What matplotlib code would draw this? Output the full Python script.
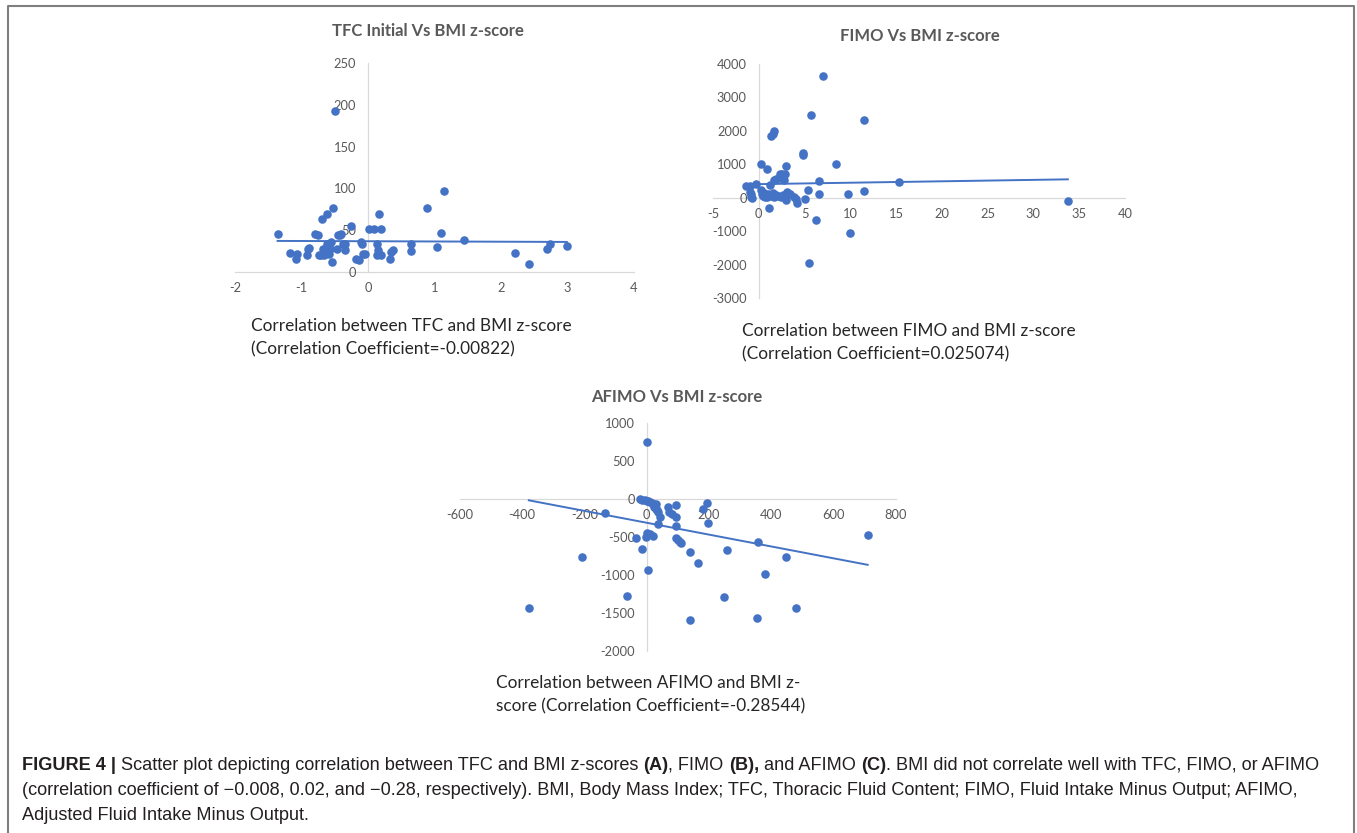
import numpy as np
import matplotlib
matplotlib.use("Agg")
import matplotlib.pyplot as plt
from matplotlib import font_manager
from matplotlib.lines import Line2D

# ---------------- data ----------------
# (A) TFC initial against BMI z-score
tfc_bmi = [-1.36, -1.18, -1.07, -1.09, -0.90, -0.92, -0.88, -0.79, -0.75, -0.73,
           -0.69, -0.68, -0.62, -0.64, -0.60, -0.59, -0.55, -0.58, -0.53, -0.54,
           -0.50, -0.47, -0.45, -0.40, -0.35, -0.34, -0.25, -0.18, -0.14, -0.10,
           -0.09, -0.08, -0.04, 0.02, 0.09, 0.17, 0.19, 0.14, 0.15, 0.13,
           0.19, 0.33, 0.37, 0.34, 0.65, 0.65, 0.89, 1.04, 1.10, 1.15,
           1.44, 2.21, 2.42, 2.69, 2.73, 2.99, -0.70, -0.66, -0.57, -0.42,
           -0.37, -0.61]
tfc_val = [45, 23, 22, 15, 27, 20, 29, 45, 44, 20,
           63, 27, 69, 22, 26, 30, 36, 22, 77, 12,
           192, 27, 44, 46, 26, 33, 55, 15, 14, 36,
           33, 22, 22, 51, 52, 69, 52, 33, 26, 20,
           20, 15, 26, 24, 34, 25, 77, 30, 47, 97,
           38, 23, 9, 27, 33, 31, 20, 20, 28, 44,
           33, 33]
tfc_fit = (36.8, -0.28)          # intercept, slope

# (B) FIMO against BMI z-score
fimo_bmi = [-1.45, -0.98, -0.91, -0.80, -0.73, -0.87, -0.25, 0.29, 0.91, 0.25,
            0.36, 0.45, 0.55, 0.65, 0.75, 0.85, 1.00, 1.09, 1.20, 1.38,
            1.56, 1.71, 1.64, 1.93, 2.18, 2.33, 2.55, 2.91, 2.95, 2.73,
            1.35, 1.50, 1.70, 1.90, 2.10, 2.40, 2.60, 2.98, 3.09, 3.46,
            3.82, 4.04, 4.18, 4.84, 4.86, 5.09, 5.35, 5.46, 5.71, 6.26,
            6.62, 6.62, 7.02, 8.48, 9.71, 9.93, 11.46, 11.50, 15.28, 33.76]
fimo_val = [350, 350, 170, 20, -10, 100, 420, 1010, 850, 220,
            120, 60, 150, 30, 80, 10, 100, -310, 370, 1840,
            1920, 1990, 520, 570, 600, 720, 700, 700, 960, 520,
            50, 140, 30, 80, 60, 20, 90, -80, 170, 100,
            20, -30, -160, 1340, 1290, -30, 220, -1950, 2470, -680,
            500, 100, 3640, 1000, 100, -1060, 2320, 190, 470, -100]
fimo_fit = (406.0, 4.26)

# (C) AFIMO against BMI z-score
afimo_bmi = [0, -379, -208, -134, -63, -34, -15, 4, -4, 0,
             11, 19, -22, -14, -6, 0, 4, 10, 15, 20,
             25, 30, 22, 28, 33, 36, 42, 36, 68, 72,
             80, 95, 93, 93, 95, 100, 106, 111, 138, 137,
             165, 181, 194, 197, 248, 258, 356, 354, 378, 447,
             479, 709]
afimo_val = [754, -1439, -768, -184, -1272, -513, -658, -934, -504, -452,
             -461, -482, -5, -10, -15, -20, -25, -40, -55, -70,
             -80, -60, -100, -130, -150, -167, -232, -333, -110, -167,
             -197, -79, -232, -355, -518, -539, -561, -583, -693, -1588,
             -838, -136, -48, -320, -1294, -671, -561, -1566, -987, -768,
             -1439, -474]
afimo_fit = (-313.0, -0.78)

titles = ["TFC Initial Vs BMI z-score", "FIMO Vs BMI z-score", "AFIMO Vs BMI z-score"]
notes = [["Correlation between TFC and BMI z-score",
          "(Correlation Coefficient=-0.00822)"],
         ["Correlation between FIMO and BMI z-score",
          "(Correlation Coefficient=0.025074)"],
         ["Correlation between AFIMO and BMI z-",
          "score (Correlation Coefficient=-0.28544)"]]

caption = [
    [("FIGURE 4 |", True),
     (" Scatter plot depicting correlation between TFC and BMI z-scores ", False),
     ("(A)", True), (", FIMO ", False), ("(B),", True), (" and AFIMO ", False),
     ("(C)", True), (". BMI did not correlate well with TFC, FIMO, or AFIMO", False)],
    [("(correlation coefficient of \u22120.008, 0.02, and \u22120.28, respectively). "
      "BMI, Body Mass Index; TFC, Thoracic Fluid Content; FIMO, Fluid Intake Minus "
      "Output; AFIMO,", False)],
    [("Adjusted Fluid Intake Minus Output.", False)],
]

# ---------------- style ----------------
BLUE = "#4472c4"
AXIS = "#d9d9d9"
GREY = "#595959"
plt.rcParams["axes.unicode_minus"] = False
plt.rcParams["font.family"] = ["Lato", "DejaVu Sans"]

installed = {f.name for f in font_manager.fontManager.ttflist}
cap_font = "Liberation Sans Narrow" if "Liberation Sans Narrow" in installed else "Liberation Sans"

W, H = 1357, 833
fig = plt.figure(figsize=(W / 100, H / 100), dpi=100)


def px_axes(left, top, right, bottom):
    return fig.add_axes([left / W, 1 - bottom / H, (right - left) / W, (bottom - top) / H])


def excel_scatter(ax, x, y, fit, xlim, ylim, xticks, yticks):
    ax.scatter(x, y, s=38, color=BLUE, linewidths=0, zorder=3)
    xs = np.array([min(x), max(x)])
    ax.plot(xs, fit[0] + fit[1] * xs, color=BLUE, lw=1.4, zorder=2)
    ax.set_xlim(xlim)
    ax.set_ylim(ylim)
    ax.set_xticks(xticks)
    ax.set_yticks(yticks)
    for s in ["top", "right"]:
        ax.spines[s].set_visible(False)
    for s in ["left", "bottom"]:
        ax.spines[s].set_position(("data", 0))
        ax.spines[s].set_color(AXIS)
        ax.spines[s].set_linewidth(0.9)
        ax.spines[s].set_zorder(1)
    ax.tick_params(length=0, labelsize=9.3, labelcolor=GREY)
    ax.tick_params(axis="y", pad=8.5)
    ax.tick_params(axis="x", pad=7.5)
    ax.patch.set_alpha(0)


ax_a = px_axes(235, 63, 634, 272)
excel_scatter(ax_a, tfc_bmi, tfc_val, tfc_fit, (-2, 4), (0, 250),
              range(-2, 5), range(0, 251, 50))

ax_b = px_axes(713, 64, 1125, 298)
excel_scatter(ax_b, fimo_bmi, fimo_val, fimo_fit, (-5, 40), (-3000, 4000),
              range(-5, 41, 5), range(-3000, 4001, 1000))

ax_c = px_axes(460, 423, 896, 651)
excel_scatter(ax_c, afimo_bmi, afimo_val, afimo_fit, (-600, 800), (-2000, 1000),
              range(-600, 801, 200), range(-2000, 1001, 500))

# chart titles
for (cx, cy), t in zip([(428, 31), (920, 36), (677, 397)], titles):
    fig.text(cx / W, 1 - cy / H, t, ha="center", va="center", fontsize=12,
             fontweight="bold", color=GREY)

# notes under each chart
for (lx, by), lines in zip([(251, 331), (742, 336), (496, 688)], notes):
    for i, line in enumerate(lines):
        fig.text(lx / W, 1 - (by + 23 * i) / H, line, ha="left", va="baseline",
                 fontsize=12.4, color="#262626")

# figure caption, drawn piece by piece so the bold parts sit inline
renderer = fig.canvas.get_renderer()


def caption_line(x, y, parts, size, draw=True):
    start = x
    for s, bold in parts:
        t = fig.text(x / W, 1 - y / H, s, fontsize=size, family=cap_font,
                     fontweight="bold" if bold else "normal",
                     color="#231f20", ha="left", va="baseline")
        x += t.get_window_extent(renderer).width
        if not draw:
            t.remove()
    return x - start


size = 11.0
width = caption_line(0, 0, caption[0], size, draw=False)
size *= 1297 / width
for i, parts in enumerate(caption):
    caption_line(22, 770 + 25 * i, parts, size)

# frame round the figure (open at the bottom)
fig.add_artist(Line2D([8 / W, 8 / W, 1354 / W, 1354 / W],
                      [-0.05, 1 - 6 / H, 1 - 6 / H, -0.05],
                      transform=fig.transFigure, color="#7f7f7f", lw=1.5))

fig.savefig("out.png", dpi=100, facecolor="white")
